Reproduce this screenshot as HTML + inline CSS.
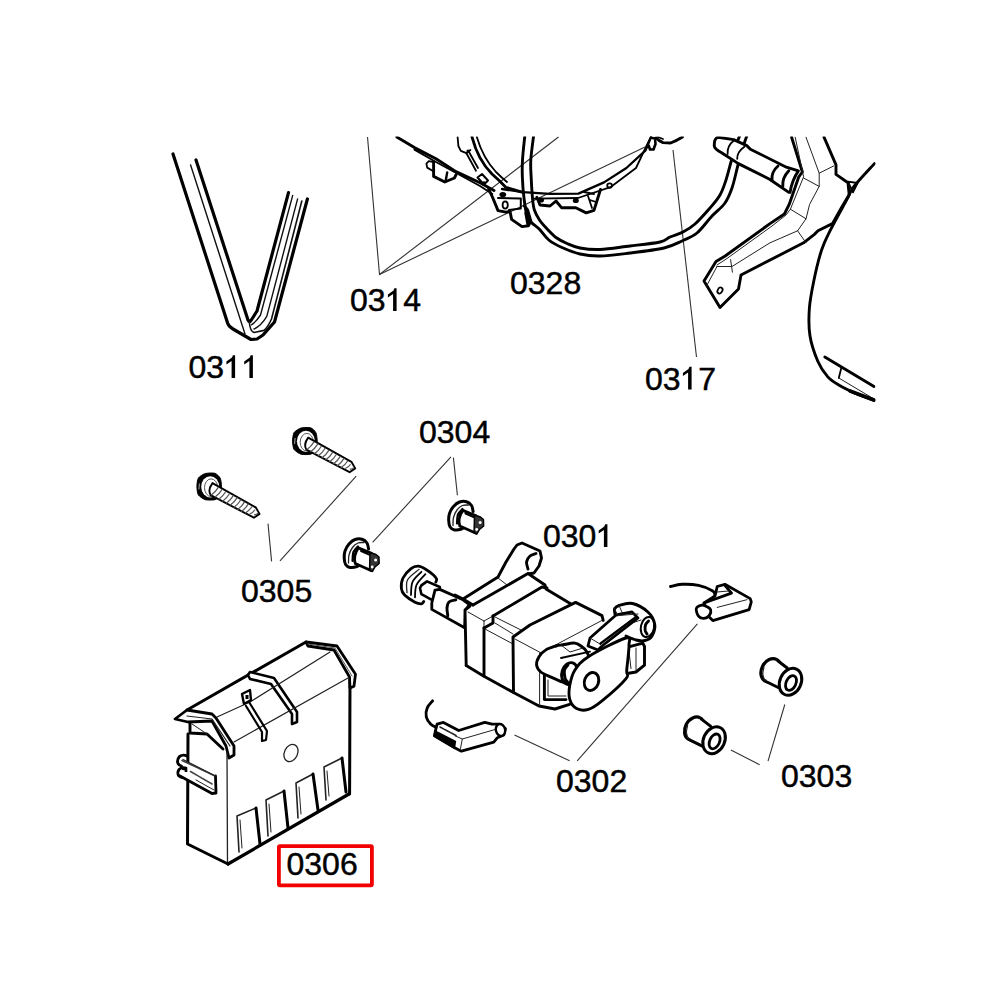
<!DOCTYPE html>
<html><head><meta charset="utf-8">
<style>
html,body{margin:0;padding:0;background:#fff;}
svg{display:block;}
text{font-family:"Liberation Sans",sans-serif;font-size:32px;fill:#000;stroke:#000;stroke-width:0.45;}
.k{fill:none;stroke:#000;stroke-width:2.9;stroke-linejoin:round;stroke-linecap:round;}
.m{fill:none;stroke:#000;stroke-width:1.8;stroke-linejoin:round;stroke-linecap:round;}
.t{fill:none;stroke:#222;stroke-width:1;stroke-linejoin:round;stroke-linecap:round;}
.w{fill:#fff;stroke:#000;stroke-width:2.9;stroke-linejoin:round;stroke-linecap:round;}
.wm{fill:#fff;stroke:#000;stroke-width:1.8;stroke-linejoin:round;stroke-linecap:round;}
.ld{fill:none;stroke:#333;stroke-width:1.1;}
</style></head>
<body>
<svg width="1000" height="1000" viewBox="0 0 1000 1000">
<rect width="1000" height="1000" fill="#fff"/>
<defs><clipPath id="ct"><rect x="0" y="136.6" width="875.5" height="863"/></clipPath></defs>
<!-- 10_labels.py -->
<text x="188.50" y="378">0</text>
<text x="206.29" y="378">3</text>
<path fill="#000" d="M235.1,355.3 L235.1,378.0 L231.6,378.0 L231.6,361.0 L226.4,364.4 L226.4,361.4 L232.0,357.4 L232.9,355.3Z"/>
<path fill="#000" d="M252.9,355.3 L252.9,378.0 L249.4,378.0 L249.4,361.0 L244.2,364.4 L244.2,361.4 L249.8,357.4 L250.7,355.3Z"/>
<text x="350.00" y="311">0</text>
<text x="367.79" y="311">3</text>
<path fill="#000" d="M396.6,288.3 L396.6,311.0 L393.1,311.0 L393.1,294.0 L387.9,297.4 L387.9,294.4 L393.5,290.4 L394.4,288.3Z"/>
<text x="403.37" y="311">4</text>
<text x="510" y="293.5">0328</text>
<text x="645.00" y="389.5">0</text>
<text x="662.79" y="389.5">3</text>
<path fill="#000" d="M691.6,366.8 L691.6,389.5 L688.1,389.5 L688.1,372.5 L682.9,375.9 L682.9,372.9 L688.5,368.9 L689.4,366.8Z"/>
<text x="698.37" y="389.5">7</text>
<text x="419" y="443">0304</text>
<text x="543.00" y="547">0</text>
<text x="560.79" y="547">3</text>
<text x="578.58" y="547">0</text>
<path fill="#000" d="M607.4,524.3 L607.4,547.0 L603.9,547.0 L603.9,530.0 L598.7,533.4 L598.7,530.4 L604.3,526.4 L605.2,524.3Z"/>
<text x="241" y="601.5">0305</text>
<text x="556" y="792">0302</text>
<text x="781" y="787">0303</text>
<text x="286.5" y="875">0306</text>
<rect x="278.9" y="846.1" width="93" height="39.2" rx="1" fill="none" stroke="#f20000" stroke-width="3.8"/>
<!-- 20_leaders.py -->
<g class="ld">
<path d="M367.5,137 L379.5,274.5 L558.5,137"/>
<path d="M379.5,274.5 L645,147"/>
<path d="M673,150 L696.5,357"/>
<path d="M268,523.6 L271.6,561.4"/>
<path d="M356.2,476.2 L280,560.8"/>
<path d="M451,456.8 L372.6,542.4"/>
<path d="M453.4,457.6 L457.4,495.2"/>
<path d="M697.4,623.9 L577.2,760.8"/>
<path d="M514.5,735.1 L569.6,760.8"/>
<path d="M784.8,704.5 L768,761.2"/>
<path d="M730.9,750 L759.6,764.7"/>
</g>
<!-- 30_belt.py -->
<g>
<path class="k" style="stroke-width:3.2" d="M173,154 L227.6,323 Q229,327 233,329 L245,336 L251,339.5 L257,339 L263,335 L274.5,322 L307.4,199"/>
<path class="k" style="stroke-width:3.2" d="M196,160 L248,320 Q249.5,323 251,320.5 L257,311 L288.5,192.6"/>
<path class="t" d="M190.6,165 L245,334" style="stroke-width:1.4;stroke:#111"/>
<path class="t" d="M292.7,195.4 L260.5,315 Q256,322 251.4,324.8" style="stroke-width:1.4;stroke:#111"/>
<path class="t" d="M297.6,198.9 L266.8,316.4 Q261,326 254,329" style="stroke-width:1.4;stroke:#111"/>
<path class="t" d="M301.8,201 L271.5,319 Q268,327 264,330.4 L254,332.5 Q250,331 249.3,322" style="stroke-width:1.6;stroke:#111"/>
</g>
<!-- 40_frame.py -->
<g clip-path="url(#ct)"><g>
<path class="k" d="M396.8,137 L414.4,147.6 L436,158.8 L456,171.6 L480,182.8 L494,190.5"/>
<path class="m" d="M414.4,149.6 L436,162 L480,186 L492.4,194"/>
<path class="k" d="M433.6,162 L433.6,176.4 L444.8,182 L454.4,178 L456,174.8"/>
<path class="m" d="M426.4,163.6 L428.8,161.2 L433.6,162 M426.4,163.6 L427.2,167.6 L433,171"/>
<path class="k" d="M447.2,172.4 L445.6,181.2" style="stroke-width:2.4"/>
<path class="k" d="M472,137 Q478,160 492,174 Q500,181 506,187.4 L522,192.2"/>
<path class="m" d="M476.8,137 Q483,158 496,172 Q502,178 507,182"/>
<path class="m" d="M457.6,137.2 L458.4,146 L460.8,150.8 L466.4,153.2 L470.4,150"/>
<circle cx="468" cy="151" r="1.6" fill="#000"/>
<path class="m" d="M466.4,153.2 L476,170.8 M469,152 L478,168"/>
<path class="m" d="M477.5,177.5 L482,174 L488,180.5 L484,184.5 Z" style="stroke-width:2"/>
<circle cx="484" cy="183" r="1.8" fill="#000"/>
<!-- center bracket -->
<path class="k" d="M488.6,189 L492.4,197 L496.4,206.6 L498,210.6 L506,212.2 L510,211.4 L511.6,219.4 L522,226.6 L528.4,225.8 L530.8,221 L527.6,209.8 L524.4,205.8"/>
<path class="m" d="M498,198 L520.8,198.6 L520.8,208.4 L509,210" style="stroke-width:2"/>
<ellipse cx="502.8" cy="194.6" rx="3.4" ry="2.6" fill="#000"/>
<ellipse class="m" cx="505.2" cy="205" rx="2.6" ry="3.6"/>
<path class="k" d="M526,213 L528,224" style="stroke-width:3.4"/>
<!-- frame edge -->
<path class="k" style="stroke-width:2.3" d="M502,189 L522.8,192.2 L550,193.8 L578.4,193.6 L604,182.4 L626.4,168 L645.6,150.4 L651,137"/>
<path class="m" d="M534.2,198.6 L578,198 L610.4,187.2 L636,168 L648,142.6 L651,137"/>
<path class="k" d="M656,137.7 Q659,141 663,142.6 L670.6,143 Q676,141 682.5,137"/>
<path d="M650,137.5 L655,138.5 L655.5,144 L653.5,149.5 L650,149.5 L648.5,145" fill="none" stroke="#000" stroke-width="2.6" stroke-linejoin="round"/>
<path class="m" d="M658,137 L663,139"/>
<!-- right bracket -->
<path class="k" d="M536.8,197.3 L540,205 L550,206 L556,201 L561.5,207.7 L575.8,207.7 L586.2,212.9 L594,210.3 L600.5,189.5"/>
<ellipse cx="541" cy="200" rx="3" ry="2.6" fill="#000"/>
<ellipse cx="575.8" cy="200.5" rx="3" ry="2.6" fill="#000"/>
<ellipse class="m" cx="609.6" cy="185.6" rx="2.4" ry="2.2"/>
<path class="m" d="M588,196 L592,208 M584,192 L594,194 M590,200 L596,202"/>
</g>
</g>
<!-- 45_wire.py -->
<g clip-path="url(#ct)"><g><path class="k" d="M524.8,136.0 C524.4,140.0 522.9,153.0 522.5,160.0 C522.1,167.0 522.1,171.7 522.4,178.0 C522.6,184.3 523.3,192.2 524.0,198.0 C524.7,203.8 525.2,209.0 526.4,213.0 C527.6,217.0 528.9,219.3 531.0,222.0 C533.1,224.7 536.2,226.0 539.2,229.0 C542.2,232.0 545.0,236.9 548.8,240.0 C552.6,243.1 556.8,245.2 562.0,247.5 C567.2,249.8 573.7,252.6 580.0,254.0 C586.3,255.4 591.7,256.2 600.0,256.0 C608.3,255.8 619.3,254.3 630.0,253.0 C640.7,251.7 655.3,250.0 664.0,248.0 C672.7,246.0 676.5,243.5 682.0,241.0 C687.5,238.5 692.0,237.2 697.0,233.0 C702.0,228.8 707.3,221.0 712.0,216.0 C716.7,211.0 721.7,207.7 725.0,203.0 C728.3,198.3 729.8,194.3 732.0,188.0 C734.2,181.7 736.3,171.3 738.0,165.0 C739.7,158.7 740.5,154.8 742.0,150.0 C743.5,145.2 746.0,138.3 746.8,136.0" /><path class="k" d="M533.6,136.0 C533.1,140.0 531.2,153.0 530.8,160.0 C530.4,167.0 530.9,171.7 531.2,178.0 C531.5,184.3 532.0,192.7 532.5,198.0 C533.0,203.3 533.2,206.3 534.4,210.0 C535.6,213.7 537.4,216.8 539.5,220.0 C541.6,223.2 544.3,226.0 547.2,229.0 C550.1,232.0 553.5,235.6 556.8,238.0 C560.1,240.4 563.1,241.8 567.0,243.5 C570.9,245.2 574.5,247.0 580.0,248.0 C585.5,249.0 591.7,249.8 600.0,249.5 C608.3,249.2 620.0,247.2 630.0,246.0 C640.0,244.8 653.3,243.5 660.0,242.0 C666.7,240.5 666.2,238.7 670.0,237.0 C673.8,235.3 678.8,234.2 683.0,232.0 C687.2,229.8 690.5,228.0 695.0,224.0 C699.5,220.0 705.8,212.8 710.0,208.0 C714.2,203.2 717.3,199.7 720.0,195.0 C722.7,190.3 724.2,185.5 726.0,180.0 C727.8,174.5 729.5,167.3 731.0,162.0 C732.5,156.7 733.6,152.3 735.0,148.0 C736.4,143.7 738.8,138.0 739.6,136.0" /></g></g>
<!-- 50_shaft.py -->
<g clip-path="url(#ct)"><g>
<path class="w" d="M718,137.2 L733.6,139.6 L746.8,145.6 L750.4,149.2 L786.4,167.2 L798.4,170.8 Q792,180 790,192.4 L788.8,192.4 L769.6,179.2 L738.4,163.6 L721.6,152.8 Q713,148 714.4,144.4 Q714,139 718,137.2 Z"/>
<path class="m" d="M733.6,140.8 Q727,146 727.6,154"/>
<path class="m" d="M744.4,146.8 Q737,152 737.2,158.8"/>
<path class="k" d="M778,166 Q771,172 772,180.4"/>
<path class="k" d="M788.8,170.8 Q782,178 782.8,186.4"/>
</g></g>
<!-- 55_arm.py -->
<g clip-path="url(#ct)"><g><path class="w" d="M791.6,137.2 L802.4,172.0 L798.8,176.8 L789.2,204.4 L784.4,214.0 L770.0,223.6 L725.2,256.0 L716.0,261.4 L704.0,281.0 L720.0,307.5 L738.5,289.0 L741.0,275.0 L803.6,242.8 L814.4,234.4 L818.0,230.8 L832.4,223.6 L842.0,206.8 L849.2,194.8 L848.0,182.8 L836.0,174.4 L836.0,164.8 L824.0,137.2" />
<path class="t" d="M795.2,137.2 L803.6,176.8 L790.4,209.2 L786.0,215.0 L772.0,226.0 L727.0,258.5 L717.0,265.0" />
<path class="t" d="M806.0,137.2 L819.2,173.2 L819.2,186.4 L809.6,204.4 L806.0,218.8 L797.6,230.8 L770.0,242.8 L732.0,266.5 L717.0,266.5" />
<path class="t" d="M819.2,173.2 L833.6,166.0" />
<path class="t" d="M803.6,178.0 L819.2,186.4" />
<path class="t" d="M790.4,209.2 L806.0,218.8" />
<path class="t" d="M797.6,230.8 L806.0,242.8" />
<path class="t" d="M730.6,259.6 L732.4,272.2" />
<path class="t" d="M706.5,286.0 L717.0,266.5" />
<ellipse class="m" cx="720" cy="290.5" rx="2.3" ry="3.2" transform="rotate(30 720 290.5)"/>
<path class="k" d="M874.4,163.6 C871.0,167.4 858.6,180.4 854.0,186.4 C849.4,192.4 850.8,192.2 846.8,199.6 C842.8,207.0 834.2,222.4 830.0,230.8 C825.8,239.2 824.3,241.8 821.6,250.0 C818.9,258.2 816.0,270.3 814.0,280.0 C812.0,289.7 810.1,298.7 809.4,308.0 C808.7,317.3 808.6,327.1 810.0,336.0 C811.4,344.9 814.9,354.4 817.8,361.2 C820.7,368.0 824.1,372.6 827.6,376.6 C831.1,380.6 834.1,382.2 838.8,385.0 C843.5,387.8 849.7,390.8 855.6,393.4 C861.5,396.0 870.9,399.2 874.0,400.4" />
<path class="m" d="M848.0,181.6 L857.6,183.0 L853.0,192.4 L848.0,181.6" />
<path class="k" d="M824.8,357.0 L874.0,386.4" />
<path class="m" d="M841.6,366.8 L838.8,378.0" />
<path class="t" d="M838.8,378.0 L874.0,399.0" />
<path class="k" d="M850,391 L874,400" style="stroke-width:3.5"/></g></g>
<!-- 60_screws.py -->
<g><path fill="#000" stroke="#000" stroke-width="1" d="M301.1,428.0 C303.0,427.5 308.9,427.3 310.6,427.8 C312.3,428.3 315.0,431.0 315.8,432.5 C316.6,434.0 317.2,439.0 317.2,441.0 C317.2,443.0 316.6,448.3 315.8,449.8 C315.0,451.3 312.3,453.7 310.6,454.2 C308.9,454.7 303.0,454.7 301.1,454.2 C299.2,453.7 295.1,451.0 294.1,449.5 C293.1,448.0 292.6,443.0 292.6,441.0 C292.6,439.0 293.1,434.0 294.1,432.5 C295.1,431.0 299.2,428.5 301.1,428.0Z" />
<ellipse cx="305.9" cy="441.3" rx="9" ry="10.6" fill="#fff"/>
<ellipse cx="306.8" cy="442.2" rx="6.6" ry="8.8" fill="none" stroke="#555" stroke-width="1"/>
<path d="M295.1,438.0 L294.6,444.0" stroke="#aaa" stroke-width="1" fill="none"/>
<path d="M308.2,437.6 L351.4,461.8 L355.2,468.4 L349.6,472.2 L306.4,449.7 Q303.1,444.5 308.2,437.6Z" fill="#fff" stroke="#000" stroke-width="1.9" stroke-linejoin="round"/>
<path d="M306.7,449.8 Q311.5,446.2 314.2,441.6" stroke="#555" stroke-width="1.2" fill="none"/>
<path d="M310.5,451.8 Q315.3,448.3 318.0,443.6" stroke="#555" stroke-width="1.2" fill="none"/>
<path d="M314.2,453.9 Q319.0,450.4 321.7,445.7" stroke="#555" stroke-width="1.2" fill="none"/>
<path d="M318.0,456.0 Q322.8,452.5 325.5,447.8" stroke="#555" stroke-width="1.2" fill="none"/>
<path d="M321.7,458.1 Q326.5,454.5 329.2,449.9" stroke="#555" stroke-width="1.2" fill="none"/>
<path d="M325.5,460.1 Q330.3,456.6 333.0,451.9" stroke="#555" stroke-width="1.2" fill="none"/>
<path d="M329.2,462.2 Q334.0,458.7 336.7,454.0" stroke="#555" stroke-width="1.2" fill="none"/>
<path d="M333.0,464.3 Q337.8,460.8 340.5,456.1" stroke="#555" stroke-width="1.2" fill="none"/>
<path d="M336.7,466.3 Q341.5,462.8 344.2,458.1" stroke="#555" stroke-width="1.2" fill="none"/>
<path d="M340.9,467.7 Q345.3,464.9 347.6,461.0" stroke="#555" stroke-width="1.2" fill="none"/>
<path d="M345.3,468.5 Q349.0,467.0 350.6,464.3" stroke="#555" stroke-width="1.2" fill="none"/>
<path d="M349.8,469.3 Q352.8,469.0 353.6,467.7" stroke="#555" stroke-width="1.2" fill="none"/>
<path fill="#000" stroke="#000" stroke-width="1" d="M205.4,473.5 C207.3,473.0 213.2,472.8 214.9,473.3 C216.6,473.8 219.3,476.5 220.1,478.0 C220.9,479.5 221.5,484.5 221.5,486.5 C221.5,488.5 220.9,493.8 220.1,495.3 C219.3,496.8 216.6,499.2 214.9,499.7 C213.2,500.2 207.3,500.2 205.4,499.7 C203.5,499.2 199.4,496.5 198.4,495.0 C197.4,493.5 196.9,488.5 196.9,486.5 C196.9,484.5 197.4,479.5 198.4,478.0 C199.4,476.5 203.5,474.0 205.4,473.5Z" />
<ellipse cx="210.2" cy="486.8" rx="9" ry="10.6" fill="#fff"/>
<ellipse cx="211.1" cy="487.7" rx="6.6" ry="8.8" fill="none" stroke="#555" stroke-width="1"/>
<path d="M199.4,483.5 L198.9,489.5" stroke="#aaa" stroke-width="1" fill="none"/>
<path d="M212.5,483.1 L255.7,507.3 L259.5,513.9 L253.9,517.7 L210.7,495.2 Q207.4,490.0 212.5,483.1Z" fill="#fff" stroke="#000" stroke-width="1.9" stroke-linejoin="round"/>
<path d="M211.0,495.3 Q215.8,491.7 218.5,487.1" stroke="#555" stroke-width="1.2" fill="none"/>
<path d="M214.8,497.3 Q219.6,493.8 222.3,489.1" stroke="#555" stroke-width="1.2" fill="none"/>
<path d="M218.5,499.4 Q223.3,495.9 226.0,491.2" stroke="#555" stroke-width="1.2" fill="none"/>
<path d="M222.3,501.5 Q227.1,498.0 229.8,493.3" stroke="#555" stroke-width="1.2" fill="none"/>
<path d="M226.0,503.6 Q230.8,500.0 233.5,495.4" stroke="#555" stroke-width="1.2" fill="none"/>
<path d="M229.8,505.6 Q234.6,502.1 237.3,497.4" stroke="#555" stroke-width="1.2" fill="none"/>
<path d="M233.5,507.7 Q238.3,504.2 241.0,499.5" stroke="#555" stroke-width="1.2" fill="none"/>
<path d="M237.3,509.8 Q242.1,506.3 244.8,501.6" stroke="#555" stroke-width="1.2" fill="none"/>
<path d="M241.0,511.8 Q245.8,508.3 248.5,503.6" stroke="#555" stroke-width="1.2" fill="none"/>
<path d="M245.2,513.2 Q249.6,510.4 251.9,506.5" stroke="#555" stroke-width="1.2" fill="none"/>
<path d="M249.6,514.0 Q253.3,512.5 254.9,509.8" stroke="#555" stroke-width="1.2" fill="none"/>
<path d="M254.1,514.8 Q257.1,514.5 257.9,513.2" stroke="#555" stroke-width="1.2" fill="none"/></g>
<!-- 65_clips.py -->
<g><path class="w" d="M368.6,549.0 C368.3,548.0 368.1,544.6 367.0,543.0 C365.9,541.4 364.0,539.8 362.0,539.2 C360.0,538.6 357.2,538.7 355.0,539.5 C352.8,540.3 350.7,542.1 349.0,544.0 C347.3,545.9 345.8,548.7 345.0,551.0 C344.2,553.3 344.1,555.8 344.2,558.0 C344.3,560.2 344.6,562.9 345.6,564.5 C346.6,566.1 348.1,567.1 350.0,567.4 C351.9,567.7 355.0,567.2 357.0,566.5 C359.0,565.8 361.2,563.6 362.0,563.0" style="stroke-width:3"/>
<path class="t" d="M348.5,563.0 C348.6,561.7 348.3,557.6 349.0,555.0 C349.7,552.4 351.0,549.5 352.5,547.5 C354.0,545.5 356.1,543.8 358.0,543.0 C359.9,542.2 363.0,542.6 364.0,542.5" style="stroke-width:1.3"/>
<path class="m" d="M352.5,561.0 C352.7,559.5 352.6,554.4 353.5,552.0 C354.4,549.6 357.2,547.4 358.0,546.5" style="stroke-width:2.2"/>
<path d="M358.3,547.9 L371.5,553.3 L371.5,570.7 L355.3,563.5 Q352.8,556.0 358.3,547.9Z" fill="#fff" stroke="#000" stroke-width="2.8" stroke-linejoin="round"/>
<path class="k" d="M370.0,552.5 L376.0,554.5 L379.0,557.0 L379.2,563.5 L375.0,567.0 L372.5,571.5 L369.5,570.0Z" style="fill:#333;stroke-width:1.4"/>
<circle cx="375.6" cy="560.0" r="1.5" fill="#fff"/>
<circle cx="372.2" cy="567.0" r="1.4" fill="#fff"/>
<path class="m" d="M361.0,551.0 L370.0,555.0" style="stroke-dasharray:1.5 1;stroke-width:2"/>
<path class="w" d="M473.1,511.5 C472.8,510.5 472.6,507.1 471.5,505.5 C470.4,503.9 468.5,502.3 466.5,501.7 C464.5,501.1 461.7,501.2 459.5,502.0 C457.3,502.8 455.2,504.6 453.5,506.5 C451.8,508.4 450.3,511.2 449.5,513.5 C448.7,515.8 448.6,518.2 448.7,520.5 C448.8,522.8 449.1,525.4 450.1,527.0 C451.1,528.6 452.6,529.6 454.5,529.9 C456.4,530.2 459.5,529.7 461.5,529.0 C463.5,528.3 465.7,526.1 466.5,525.5" style="stroke-width:3"/>
<path class="t" d="M453.0,525.5 C453.1,524.2 452.8,520.1 453.5,517.5 C454.2,514.9 455.5,512.0 457.0,510.0 C458.5,508.0 460.6,506.3 462.5,505.5 C464.4,504.7 467.5,505.1 468.5,505.0" style="stroke-width:1.3"/>
<path class="m" d="M457.0,523.5 C457.2,522.0 457.1,516.9 458.0,514.5 C458.9,512.1 461.8,509.9 462.5,509.0" style="stroke-width:2.2"/>
<path d="M462.8,510.4 L476.0,515.8 L476.0,533.2 L459.8,526.0 Q457.3,518.5 462.8,510.4Z" fill="#fff" stroke="#000" stroke-width="2.8" stroke-linejoin="round"/>
<path class="k" d="M474.5,515.0 L480.5,517.0 L483.5,519.5 L483.7,526.0 L479.5,529.5 L477.0,534.0 L474.0,532.5Z" style="fill:#333;stroke-width:1.4"/>
<circle cx="480.1" cy="522.5" r="1.5" fill="#fff"/>
<circle cx="476.7" cy="529.5" r="1.4" fill="#fff"/>
<path class="m" d="M465.5,513.5 L474.5,517.5" style="stroke-dasharray:1.5 1;stroke-width:2"/></g>
<!-- 70_motor.py -->
<g><path class="w" d="M423.8,601.4 C423.4,601.8 422.9,603.7 421.4,603.8 C419.9,603.9 417.8,603.7 415.0,602.2 C412.2,600.7 406.9,597.3 404.6,595.0 C402.3,592.7 401.7,591.4 401.4,588.6 C401.1,585.8 401.4,581.3 403.0,578.0 C404.6,574.7 408.5,570.6 411.0,568.6 C413.5,566.6 415.7,566.1 418.2,566.2 C420.7,566.4 423.5,568.0 426.0,569.5 C428.5,571.0 431.6,573.4 433.4,575.0 C435.2,576.6 436.2,577.8 436.6,579.0 C437.0,580.2 435.9,581.7 435.8,582.2" style="stroke-width:2.8"/>
<path class="t" d="M407.0,592.6 C407.1,590.5 405.5,583.9 407.5,580.0 C409.5,576.1 417.1,571.2 419.0,569.4" style="stroke-width:1.3"/>
<path class="m" d="M411.0,595.0 C411.2,592.8 410.8,585.9 412.5,582.0 C414.2,578.1 419.9,573.5 421.4,571.8" />
<path class="m" d="M415.0,597.4 C415.2,595.3 414.8,588.9 416.5,585.0 C418.2,581.1 423.9,576.0 425.4,574.2" />
<path class="w" d="M427.0,581.4 L439.8,587.0 L439.8,595.0 L431.8,599.8 L421.4,594.2 L420.0,588.0 L421.4,585.4Z" style="stroke-width:2.6"/>
<path class="w" d="M439.8,589.4 L463.0,599.8 L469.4,604.6 L465.4,610.2 L464.6,627.8 L431.8,609.4 L431.8,603.0 L435.0,590.2Z" style="stroke-width:2.8"/>
<path class="k" d="M455.8,599.8 C454.7,600.2 450.5,600.6 449.0,602.0 C447.5,603.4 447.2,605.7 447.0,608.0 C446.8,610.3 447.7,614.5 447.8,615.8" />
<path class="w" d="M463.0,599.0 L498.0,577.0 L506.0,562.0 L514.0,549.0 L517.0,545.0 L522.0,543.0 L540.0,551.0 L541.5,558.0 L539.0,566.0 L534.0,573.0 L528.0,574.0" style="stroke-width:2.9"/>
<path class="k" d="M536.0,553.5 C535.0,553.9 531.6,554.6 530.0,556.0 C528.4,557.4 526.8,559.8 526.5,562.0 C526.2,564.2 527.8,567.8 528.0,569.0" />
<path class="t" d="M498.0,578.0 L507.0,585.0" />
<path class="w" d="M465.0,610.0 L470.0,605.0 L528.0,573.0 L545.0,585.0 L571.0,604.0 L575.6,602.4 L602.0,615.6 L603.2,620.4 L602.0,640.0 L600.0,700.0 L569.6,704.4 L555.0,709.0 L539.0,706.0 L513.5,692.5 L483.5,676.0 L466.2,665.5Z" style="stroke:none"/>
<path class="k" d="M455.0,595.0 L463.0,599.0 L473.0,605.0" />
<path class="k" d="M473.0,605.0 L528.0,573.5 L545.0,585.0 L546.0,589.0 L571.0,604.0" />
<path class="k" d="M466.2,665.5 L465.0,610.0 L470.0,606.0" />
<path class="k" d="M466.2,665.5 L483.5,676.0 L513.5,692.5 L539.0,706.0 L555.0,709.0 L569.6,704.4" />
<path class="t" d="M468.0,612.0 L484.0,621.0" />
<path class="t" d="M484.0,621.0 L484.0,628.0" />
<path class="k" d="M484.0,628.0 L484.0,676.0" />
<path class="t" d="M484.0,621.0 L493.0,616.0" />
<path class="k" d="M493.0,616.0 L493.0,623.0 L484.0,628.0" />
<path class="k" d="M493.0,616.0 L542.0,587.0 L547.0,588.0" />
<path class="t" d="M485.0,629.0 L513.0,644.0" />
<path class="t" d="M495.0,617.0 L521.0,630.0" />
<path class="t" d="M495.0,623.0 L513.0,634.0" />
<path class="k" d="M513.0,638.0 L513.5,692.5" />
<path class="k" d="M513.0,637.0 L530.0,625.0 L575.6,602.4 L602.0,615.6 L603.2,620.4" />
<path class="t" d="M515.0,639.0 L540.8,652.8" />
<path class="t" d="M540.8,652.8 L602.0,620.4" />
<path class="t" d="M539.6,652.8 L539.6,705.6" />
<path class="k" d="M544.4,675.6 L544.4,699.6 L566.0,699.6" />
<path class="t" d="M548.0,680.0 L548.0,696.0 L566.0,696.0" />
<path class="w" d="M539.0,656.7 C540.5,654.2 543.1,651.7 545.9,649.9 C548.7,648.1 553.2,646.9 556.0,646.0 C558.8,645.1 559.8,645.3 562.9,644.8 C566.0,644.3 571.7,642.8 574.8,643.1 C577.9,643.4 579.6,645.1 581.6,646.5 C583.6,647.9 585.6,649.4 586.7,651.6 C587.8,653.9 589.8,656.6 588.0,660.0 C586.2,663.4 579.0,668.0 576.0,672.0 C573.0,676.0 572.2,682.3 570.0,684.0 C567.8,685.7 566.1,683.4 562.9,682.2 C559.7,681.1 554.7,678.8 551.0,677.1 C547.3,675.4 543.2,674.0 540.8,672.0 C538.4,670.0 536.9,667.8 536.6,665.2 C536.3,662.7 537.5,659.2 539.0,656.7Z" style="stroke-width:2.9"/>
<ellipse class="w" cx="569.5" cy="673" rx="7.6" ry="10.6" transform="rotate(18 569.5 673)" style="stroke-width:2.9"/>
<path class="k" d="M568.0,665.0 C567.4,665.8 565.0,667.8 564.5,670.0 C564.0,672.2 564.5,676.0 565.0,678.0 C565.5,680.0 567.1,681.3 567.5,682.0" />
<path class="t" d="M561.0,645.0 L570.0,652.0 L583.0,648.0" />
<path class="m" d="M561.0,658.0 L590.0,651.6" />
<path class="w" d="M624.0,648.2 L642.8,643.1 L644.5,646.5 L644.5,665.2 L636.0,672.0 L625.8,673.7Z" style="stroke-width:2.9"/>
<path class="t" d="M629.0,651.6 L631.0,668.6" />
<path class="t" d="M636.0,648.0 L636.0,670.0" />
<path class="w" d="M574.8,670.3 C577.9,665.5 579.9,662.1 588.4,656.7 C596.9,651.3 619.0,640.0 625.8,638.0 C632.6,636.0 628.9,639.6 629.0,645.0 C629.1,650.4 627.2,664.7 626.7,670.3 C626.2,675.9 629.9,673.7 625.8,678.8 C621.7,683.9 608.2,695.8 602.0,700.9 C595.8,706.0 592.6,708.1 588.4,709.4 C584.1,710.7 579.6,710.3 576.5,708.6 C573.4,706.9 570.8,703.0 569.7,699.2 C568.6,695.4 568.9,690.4 569.7,685.6 C570.6,680.8 571.7,675.1 574.8,670.3Z" style="stroke-width:2.9"/>
<ellipse class="k" cx="591.5" cy="681.5" rx="7" ry="9.2" transform="rotate(20 591.5 681.5)"/>
<path class="w" d="M615.0,614.0 C614.9,613.2 613.8,610.4 614.5,609.0 C615.2,607.6 616.0,606.4 619.0,605.5 C622.0,604.6 627.8,602.4 632.6,603.5 C637.4,604.6 644.2,608.6 647.9,612.0 C651.6,615.4 654.0,620.0 654.7,624.0 C655.4,628.0 653.6,633.2 652.0,636.0 C650.4,638.8 647.7,639.8 645.0,640.5 C642.3,641.2 639.2,640.8 636.0,640.0 C632.8,639.2 627.7,636.7 626.0,636.0" style="stroke-width:2.9"/>
<path class="t" d="M619.0,605.5 L627.5,624.4 L641.0,620.0" />
<ellipse class="m" cx="647.5" cy="627" rx="6.6" ry="10.2" transform="rotate(12 647.5 627)" style="stroke-width:2"/>
<path class="k" d="M648.5,621.0 C648.0,621.7 646.0,623.4 645.5,625.0 C645.0,626.6 645.0,629.0 645.2,630.5 C645.5,632.0 646.7,633.4 647.0,634.0" />
<path class="w" d="M590.0,638.0 L588.0,646.0 L598.0,650.0 L602.0,646.0 L638.0,618.0 L632.0,612.0 L616.0,615.0Z" style="stroke-width:2.8"/>
<path class="t" d="M590.0,638.0 L600.0,644.0 L602.0,646.0" />
<path class="k" d="M600.5,643.5 L636.0,617.0" style="stroke-width:2.2"/>
<path class="t" d="M614.0,608.0 L618.0,615.5 L638.0,614.0" /></g>
<!-- 80_connectors.py -->
<g><path class="k" d="M432.6,700.8 C431.7,702.0 428.2,705.3 427.2,708.0 C426.1,710.7 425.7,714.3 426.3,717.0 C426.9,719.7 429.0,722.4 430.8,724.2 C432.6,726.0 436.1,727.2 437.1,727.8" />
<path class="w" d="M437.1,724.2 L443.4,722.4 L458.7,730.5 L484.8,722.4 L492.0,724.2 L499.2,724.2 L505.5,728.7 L503.7,735.0 L497.4,737.7 L493.8,742.2 L461.4,751.2 L454.2,747.6 L434.4,735.9 L435.3,731.4Z" style="stroke-width:2.8"/>
<path d="M435.3,731.4 L455.1,741.5 L454.2,747.6 L434.4,735.9Z" fill="#000" stroke="#000" stroke-width="2"/>
<path class="t" d="M440.0,727.0 L456.0,735.5" style="stroke-width:1.6;stroke-dasharray:1.5 1"/>
<path class="t" d="M455.1,735.9 L462.3,739.0 L494.7,729.6" />
<path class="t" d="M462.3,739.0 L460.5,748.5" />
<ellipse class="w" cx="500.5" cy="730" rx="4.6" ry="6" transform="rotate(-15 500.5 730)" style="stroke-width:2.4"/>
<path class="k" d="M670.5,586.5 C672.4,586.1 677.3,584.5 682.0,584.3 C686.7,584.1 693.4,584.3 698.5,585.4 C703.6,586.5 710.0,589.2 712.8,590.9 C715.5,592.5 714.6,594.6 715.0,595.3" />
<path class="w" d="M717.2,586.5 L724.9,584.3 L750.2,598.6 L751.3,601.9 L749.1,609.6 L712.8,620.6 L708.4,616.2 L704.0,603.0 L715.0,596.0Z" style="stroke-width:2.8"/>
<path class="k" d="M704.0,603.0 L731.5,593.1 L724.9,585.4" />
<path class="t" d="M717.0,592.0 L729.0,591.0" />
<path class="t" d="M717.2,607.4 L746.9,599.7" />
<path class="w" d="M706.2,606.3 C705.5,606.1 703.4,604.8 701.8,605.2 C700.1,605.6 696.8,606.7 696.3,608.5 C695.8,610.3 697.2,614.6 698.5,616.2 C699.8,617.9 702.2,618.6 704.0,618.4 C705.8,618.2 708.4,616.6 709.5,615.1 C710.6,613.6 711.1,611.1 710.6,609.6 C710.1,608.1 706.9,606.8 706.2,606.3" style="stroke-width:2.8"/></g>
<!-- 85_bushings.py -->
<g><ellipse cx="770.8" cy="670.2" rx="9.2" ry="12.2" transform="rotate(28 770.8 670.2)" fill="#fff" stroke="#000" stroke-width="3.2"/>
<path class="w" d="M776.5,659.5 L787.5,668.0 L779.0,688.0 L766.5,681.0Z" style="stroke:none"/>
<path class="k" d="M777.5,660.5 L787.2,668.0" style="stroke-width:3"/>
<path class="k" d="M767.0,682.0 L778.2,687.5" style="stroke-width:3"/>
<path class="t" d="M764.0,667.0 C763.8,668.2 762.7,671.8 762.8,674.0 C762.9,676.2 764.2,679.0 764.5,680.0" style="stroke-width:1.2"/>
<ellipse cx="790.5" cy="681.8" rx="10.6" ry="14" transform="rotate(25 790.5 681.8)" fill="#fff" stroke="#000" stroke-width="3"/>
<ellipse cx="791.0" cy="683.0" rx="4.9" ry="7.8" transform="rotate(25 791.0 683.0)" fill="#fff" stroke="#000" stroke-width="2.8"/>
<ellipse cx="694.4" cy="728.6" rx="9.2" ry="12.2" transform="rotate(28 694.4 728.6)" fill="#fff" stroke="#000" stroke-width="3.2"/>
<path class="w" d="M700.1,717.9 L711.1,726.4 L702.6,746.4 L690.1,739.4Z" style="stroke:none"/>
<path class="k" d="M701.1,718.9 L710.8,726.4" style="stroke-width:3"/>
<path class="k" d="M690.6,740.4 L701.8,745.9" style="stroke-width:3"/>
<path class="t" d="M687.6,725.4 C687.4,726.6 686.3,730.2 686.4,732.4 C686.5,734.6 687.8,737.4 688.1,738.4" style="stroke-width:1.2"/>
<ellipse cx="714.1" cy="740.2" rx="10.6" ry="14" transform="rotate(25 714.1 740.2)" fill="#fff" stroke="#000" stroke-width="3"/>
<ellipse cx="714.6" cy="741.4" rx="4.9" ry="7.8" transform="rotate(25 714.6 741.4)" fill="#fff" stroke="#000" stroke-width="2.8"/></g>
<!-- 90_box.py -->
<g><path class="w" d="M187.0,734.0 L187.0,844.0 L228.0,864.0 L349.0,794.0 L350.0,680.0 L355.5,674.0 L337.0,646.0 L306.0,642.0 L187.0,710.0 L175.0,719.0Z" style="stroke:none"/>
<path class="k" d="M187.0,710.0 L306.0,642.0" style="stroke-width:3"/>
<path class="w" d="M175.0,719.0 L187.0,710.0 L212.0,714.0 L216.0,718.0 L234.0,746.0 L234.0,755.0 L229.0,758.0 L226.0,746.0 L212.0,721.0 L188.0,722.0Z" style="stroke-width:2.8"/>
<path class="t" d="M187.0,716.0 L212.0,719.0 L230.0,746.0" style="stroke-width:1.2"/>
<path class="k" d="M190.0,723.0 L190.0,733.0 L207.0,734.0 L223.0,749.0" />
<path class="t" d="M192.0,724.0 L207.0,734.0" />
<path class="k" d="M188.0,734.0 L187.5,844.0 L228.0,864.0" style="stroke-width:3"/>
<path class="t" d="M227.0,752.0 L227.5,864.0" style="stroke-width:1.3"/>
<path class="k" d="M228.0,864.0 L349.0,794.0" style="stroke-width:3.2"/>
<path class="k" d="M350.0,680.0 L349.6,794.0" style="stroke-width:3"/>
<path class="w" d="M306.0,642.0 L337.0,646.0 L355.5,674.2 L354.0,686.2 L350.0,688.0 L349.5,677.0 L334.0,650.0 L308.0,646.0Z" style="stroke-width:2.8"/>
<path class="t" d="M308.0,644.0 L335.0,648.0 L352.0,676.0" style="stroke-width:1;stroke:#555"/>
<path class="w" d="M248.0,675.0 L250.0,672.0 L274.0,678.0 L297.0,712.0 L297.0,722.0 L292.0,724.0 L292.0,714.0 L271.0,684.0 L250.0,679.0Z" style="stroke-width:2.6"/>
<path class="t" d="M217.0,717.0 L250.0,702.0 L330.0,652.0" style="stroke-width:1.2"/>
<path class="t" d="M234.0,742.0 L250.0,733.0 L348.0,678.0" style="stroke-width:1.2"/>
<path class="w" d="M242.0,694.0 L250.0,690.0 L251.0,700.0 L244.0,704.0Z" style="stroke-width:2.4"/>
<rect x="245.5" y="695" width="3" height="4" fill="#000"/>
<path class="k" d="M249.0,702.0 L267.0,731.0 L266.0,740.0 L262.0,741.0 L262.0,732.0 L246.0,706.0" style="stroke-width:2.2"/>
<ellipse class="t" cx="291" cy="753" rx="6.6" ry="9" transform="rotate(25 291 753)" style="stroke-width:1.3"/>
<path d="M181,759.5 L215.5,776 L216,793 L212,793.5 L179.5,775 Z" fill="#fff" stroke="none"/>
<path class="k" d="M215.5,776 L216,793 L212,793.5 L180,776" style="stroke-width:2.8"/>
<path class="k" d="M187,756 Q183,754 179.5,756.5 Q176.5,760 178,763.5 Q179,765.5 181.5,766" style="stroke-width:2.8"/>
<path class="k" d="M186,768 Q181.5,767 179,769.5 Q177,772.5 178.5,775.5 Q180,777 182,777.5" style="stroke-width:2.8"/>
<path d="M182,768.5 L186,769.5 L186,772" fill="none" stroke="#000" stroke-width="2.6"/>
<path class="t" d="M182.0,760.5 L214.0,775.5" style="stroke-width:1.6;stroke:#444;stroke-dasharray:1.6 0.8"/>
<path class="t" d="M190.5,771.5 L212.0,784.0" style="stroke-width:1.6;stroke:#444;stroke-dasharray:1.6 0.8"/>
<path class="t" d="M183.0,759.5 L215.5,776.0" style="stroke-width:1.2"/>
<path class="t" d="M196.0,780.0 L214.0,790.0" style="stroke-width:1"/>
<path class="t" d="M239.0,852.0 L237.0,816.0 L256.0,808.0" style="stroke-width:1.6"/>
<path class="k" d="M256.0,808.0 L260.0,844.0" style="stroke-width:3"/>
<path class="t" d="M240.0,820.0 L242.0,848.0" style="stroke-width:1"/>
<path class="t" d="M268.0,836.0 L266.0,800.0 L284.0,791.0" style="stroke-width:1.6"/>
<path class="k" d="M284.0,791.0 L288.0,828.0" style="stroke-width:3"/>
<path class="t" d="M269.0,804.0 L271.0,832.0" style="stroke-width:1"/>
<path class="t" d="M298.0,818.0 L296.0,783.0 L313.0,774.0" style="stroke-width:1.6"/>
<path class="k" d="M313.0,774.0 L318.0,810.0" style="stroke-width:3"/>
<path class="t" d="M299.0,787.0 L301.0,814.0" style="stroke-width:1"/>
<path class="t" d="M326.0,800.0 L324.0,767.0 L342.0,758.0" style="stroke-width:1.6"/>
<path class="k" d="M342.0,758.0 L346.0,792.0" style="stroke-width:3"/>
<path class="t" d="M327.0,771.0 L329.0,796.0" style="stroke-width:1"/></g>
</svg>
</body></html>
